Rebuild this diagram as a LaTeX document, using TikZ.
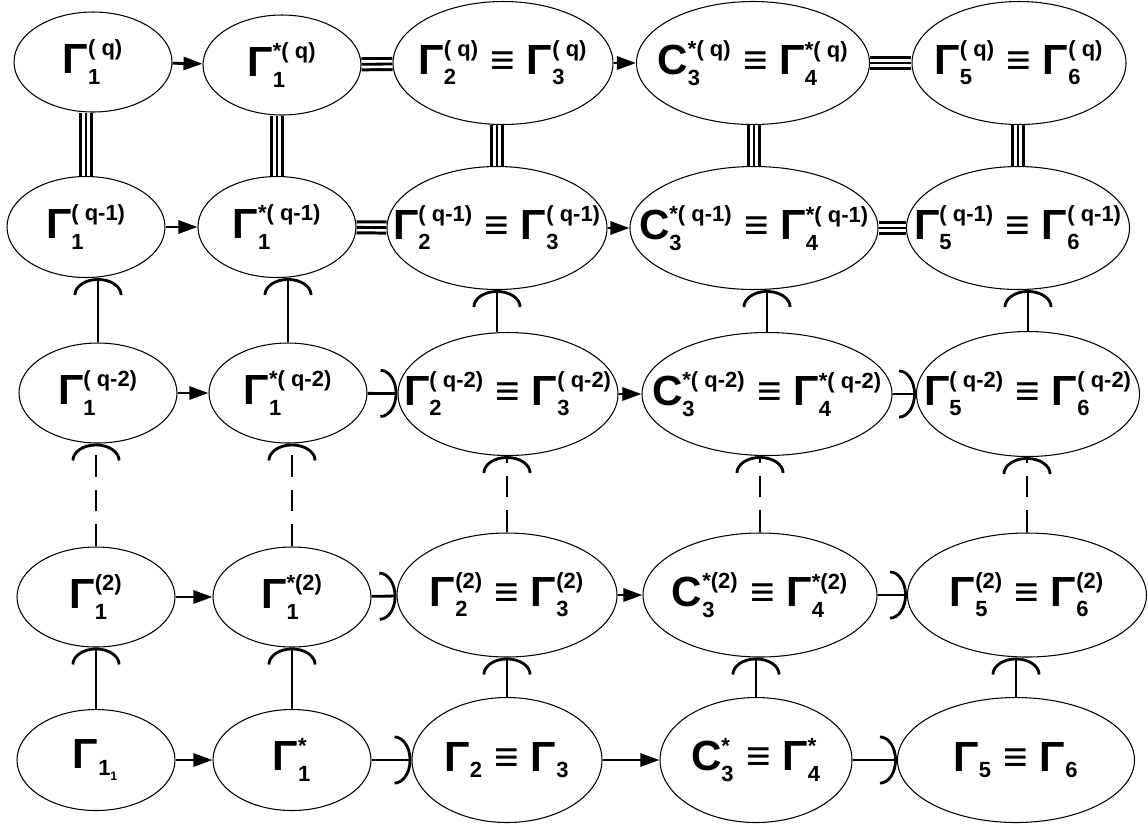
\documentclass[tikz,border=0pt]{standalone}
\usepackage{amsmath}
\usepackage{fontspec}
\setmainfont{Liberation Sans}
\usetikzlibrary{shapes.geometric, arrows.meta}
\newcommand{\scrsz}{\fontsize{12.5}{14}\selectfont}
\newcommand{\gsym}[3]{$\text{#1}^{\text{\scrsz #3}}_{\text{\scrsz #2}}$}
\newcommand{\inlab}[1]{\makebox[0pt]{#1}}
\tikzset{
    oval/.style 2 args={ellipse, draw, line width=0.6pt, minimum width=#1*0.02cm, minimum height=#2*0.02cm, inner sep=0pt, font=\bfseries\fontsize{24}{28}\selectfont},
    arrow/.style={-{Triangle[length=0.38cm, width=0.26cm]}, line width=1.6pt},
    incl/.style={-{Arc Barb[length=0.34cm, width=0.98cm]}, line width=1.6pt},
    triple/.style={line width=8pt, postaction={draw, white, line width=4.6pt}, postaction={draw, black, line width=1.6pt}},
    gap/.style={dash pattern=on 0.44cm off 0.26cm}
}
\begin{document}
\begin{tikzpicture}[x=0.02cm, y=-0.02cm]
    \useasboundingbox (0,0) rectangle (1148,826);

    % row q
    \node[oval={158}{100}] (r1c1) at (93,62) {\inlab{\gsym{Γ}{1}{( q)}}};
    \node[oval={158}{100}] (r1c2) at (282,65) {\inlab{\gsym{Γ}{1}{*( q)}}};
    \node[oval={220}{123}] (r1c3) at (503,63) {\inlab{\gsym{Γ}{2}{( q)} ≡ \gsym{Γ}{3}{( q)}}};
    \node[oval={233}{123}] (r1c4) at (753,63) {\inlab{\gsym{C}{3}{*( q)} ≡ \gsym{Γ}{4}{*( q)}}};
    \node[oval={214}{123}] (r1c5) at (1019,63) {\inlab{\gsym{Γ}{5}{( q)} ≡ \gsym{Γ}{6}{( q)}}};

    % row q-1
    \node[oval={158}{101}] (r2c1) at (86,227) {\inlab{\gsym{Γ}{1}{( q-1)}}};
    \node[oval={158}{101}] (r2c2) at (277,227) {\inlab{\gsym{Γ}{1}{*( q-1)}}};
    \node[oval={220}{123}] (r2c3) at (497,228) {\inlab{\gsym{Γ}{2}{( q-1)} ≡ \gsym{Γ}{3}{( q-1)}}};
    \node[oval={248}{123}] (r2c4) at (754,228) {\inlab{\gsym{C}{3}{*( q-1)} ≡ \gsym{Γ}{4}{*( q-1)}}};
    \node[oval={223}{123}] (r2c5) at (1018,228) {\inlab{\gsym{Γ}{5}{( q-1)} ≡ \gsym{Γ}{6}{( q-1)}}};

    % row q-2
    \node[oval={158}{100}] (r3c1) at (98,393) {\inlab{\gsym{Γ}{1}{( q-2)}}};
    \node[oval={158}{100}] (r3c2) at (288,393) {\inlab{\gsym{Γ}{1}{*( q-2)}}};
    \node[oval={220}{123}] (r3c3) at (508,394) {\inlab{\gsym{Γ}{2}{( q-2)} ≡ \gsym{Γ}{3}{( q-2)}}};
    \node[oval={250}{123}] (r3c4) at (767,394) {\inlab{\gsym{C}{3}{*( q-2)} ≡ \gsym{Γ}{4}{*( q-2)}}};
    \node[oval={223}{125}] (r3c5) at (1028,394) {\inlab{\gsym{Γ}{5}{( q-2)} ≡ \gsym{Γ}{6}{( q-2)}}};

    % row 2
    \node[oval={158}{100}] (r4c1) at (96,597) {\inlab{\gsym{Γ}{1}{(2)}}};
    \node[oval={158}{100}] (r4c2) at (292,597) {\inlab{\gsym{Γ}{1}{*(2)}}};
    \node[oval={220}{124}] (r4c3) at (507,595) {\inlab{\gsym{Γ}{2}{(2)} ≡ \gsym{Γ}{3}{(2)}}};
    \node[oval={234}{124}] (r4c4) at (760,595) {\inlab{\gsym{C}{3}{*(2)} ≡ \gsym{Γ}{4}{*(2)}}};
    \node[oval={239}{124}] (r4c5) at (1027,595) {\inlab{\gsym{Γ}{5}{(2)} ≡ \gsym{Γ}{6}{(2)}}};

    % row 1
    \node[oval={158}{101}] (r5c1) at (96,760) {\inlab{$\text{Γ}_{\text{\scrsz 1}_{\text{\fontsize{7}{8}\selectfont 1}}}$}};
    \node[oval={158}{101}] (r5c2) at (292,760) {\inlab{\gsym{Γ}{1}{*}}};
    \node[oval={190}{125}] (r5c3) at (507,760) {\inlab{$\text{Γ}_{\text{\scrsz 2}}$ ≡ $\text{Γ}_{\text{\scrsz 3}}$}};
    \node[oval={192}{125}] (r5c4) at (756,760) {\inlab{\gsym{C}{3}{*} ≡ \gsym{Γ}{4}{*}}};
    \node[oval={237}{125}] (r5c5) at (1016,760) {\inlab{$\text{Γ}_{\text{\scrsz 5}}$ ≡ $\text{Γ}_{\text{\scrsz 6}}$}};

    % across
    \draw[arrow] (r1c1) -- (r1c2);
    \draw[triple] (r1c2) -- (r1c3);
    \draw[arrow] (r1c3) -- (r1c4);
    \draw[triple] (r1c4) -- (r1c5);
    \draw[arrow] (r2c1) -- (r2c2);
    \draw[triple] (r2c2) -- (r2c3);
    \draw[arrow] (r2c3) -- (r2c4);
    \draw[triple] (r2c4) -- (r2c5);
    \draw[arrow] (r3c1) -- (r3c2);
    \draw[incl] (r3c2) -- (r3c3);
    \draw[arrow] (r3c3) -- (r3c4);
    \draw[incl] (r3c4) -- (r3c5);
    \draw[arrow] (r4c1) -- (r4c2);
    \draw[incl] (r4c2) -- (r4c3);
    \draw[arrow] (r4c3) -- (r4c4);
    \draw[incl] (r4c4) -- (r4c5);
    \draw[arrow] (r5c1) -- (r5c2);
    \draw[incl] (r5c2) -- (r5c3);
    \draw[arrow] (r5c3) -- (r5c4);
    \draw[incl] (r5c4) -- (r5c5);

    % upward
    \draw[triple] (r2c1.north) -- (r2c1.north |- r1c1.south);
    \draw[triple] (r2c2.north) -- (r2c2.north |- r1c2.south);
    \draw[triple] (r2c3.north) -- (r2c3.north |- r1c3.south);
    \draw[triple] (r2c4.north) -- (r2c4.north |- r1c4.south);
    \draw[triple] (r2c5.north) -- (r2c5.north |- r1c5.south);
    \draw[incl] (r3c1.north) -- (r3c1.north |- r2c1.south);
    \draw[incl] (r3c2.north) -- (r3c2.north |- r2c2.south);
    \draw[incl] (r3c3.north -| r2c3) -- (r2c3.south);
    \draw[incl] (r3c4.north) -- (r3c4.north |- r2c4.south);
    \draw[incl] (r3c5.north) -- (r3c5.north |- r2c5.south);
    \draw[incl, gap] (r4c1.north) -- (r4c1.north |- r3c1.south);
    \draw[incl, gap] (r4c2.north) -- (r4c2.north |- r3c2.south);
    \draw[incl, gap] (r4c3.north) -- (r4c3.north |- r3c3.south);
    \draw[incl, gap] (r4c4.north) -- (r4c4.north |- r3c4.south);
    \draw[incl, gap] (r4c5.north) -- (r4c5.north |- r3c5.south);
    \draw[incl] (r5c1.north) -- (r5c1.north |- r4c1.south);
    \draw[incl] (r5c2.north) -- (r5c2.north |- r4c2.south);
    \draw[incl] (r5c3.north) -- (r5c3.north |- r4c3.south);
    \draw[incl] (r5c4.north) -- (r5c4.north |- r4c4.south);
    \draw[incl] (r5c5.north) -- (r5c5.north |- r4c5.south);

\end{tikzpicture}
\end{document}
